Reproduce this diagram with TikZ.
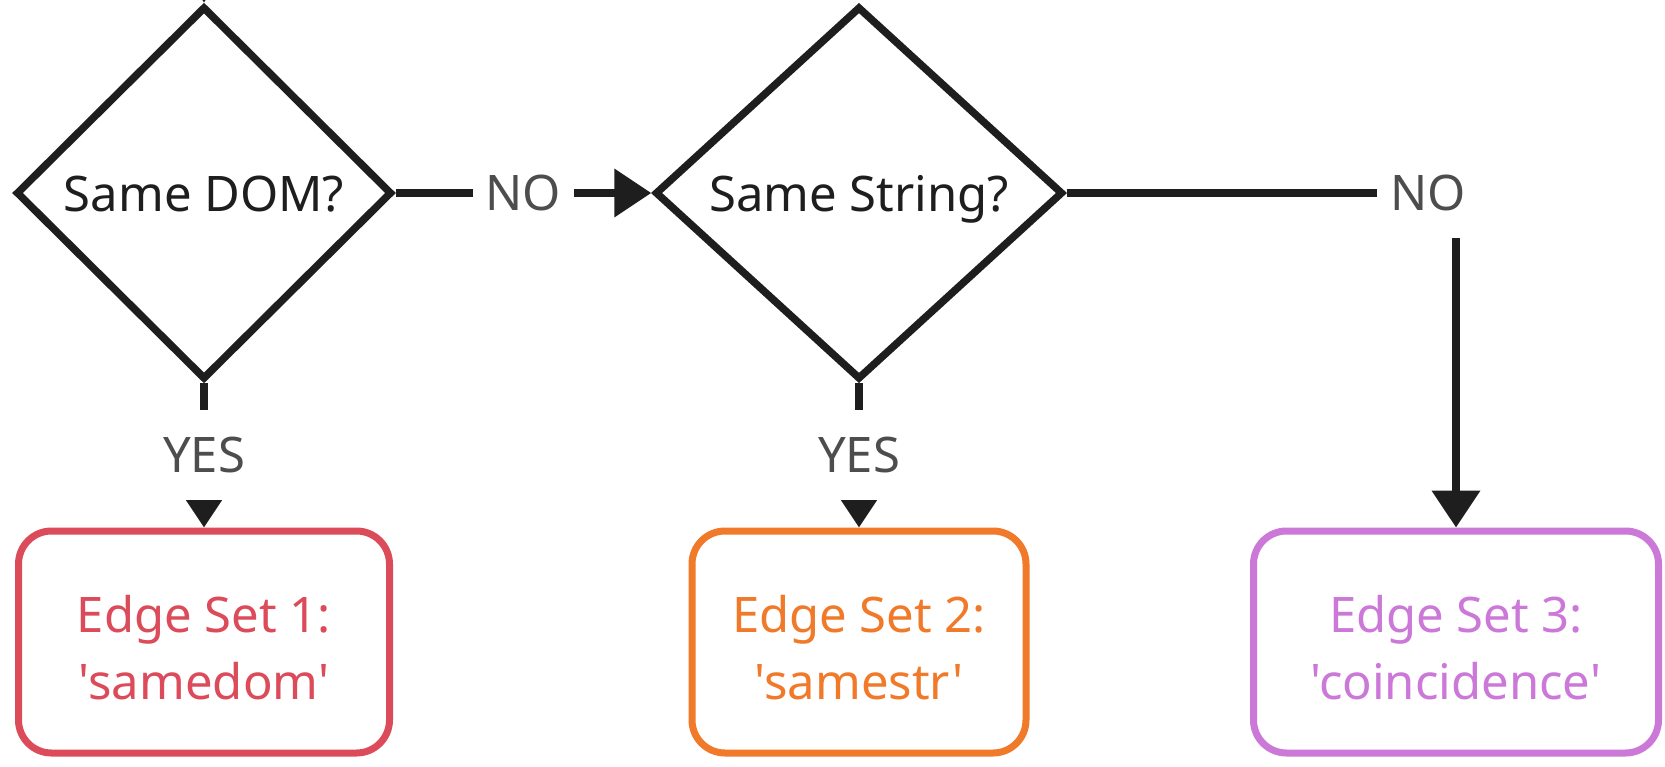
\documentclass[tikz,border=0pt]{standalone}
\usepackage{fontspec}
\setmainfont{Noto Sans}[Ligatures=TeXOff]
\usetikzlibrary{arrows.meta,shapes.geometric}
\definecolor{ink}{HTML}{1E1E1E}
\definecolor{labelgrey}{HTML}{4D4D4D}
\definecolor{setred}{HTML}{DC4B5A}
\definecolor{setorange}{HTML}{F07A2A}
\definecolor{setviolet}{HTML}{CB78D8}

\begin{document}
\begin{tikzpicture}[x=1pt,y=-1pt,
  every node/.style={font=\fontsize{49}{67}\selectfont},
  decision/.style={diamond, draw=ink, line width=7.5pt, fill=white, text=ink,
    inner sep=0pt, minimum height=373pt, text height=36pt, text depth=0pt},
  edgeset/.style={draw=#1, text=#1, rounded corners=33pt, line width=7pt,
    minimum height=222pt, align=center, inner sep=0pt, text height=115pt},
  flow/.style={draw=ink, line width=7.5pt,
    -{Triangle[length=37pt,width=47pt]}},
  branch/.style={fill=white, text=labelgrey, inner xsep=13pt, inner ysep=0pt,
    minimum height=90pt},
]
\useasboundingbox (0,0) rectangle (1665,766);

% decisions
\node[decision, minimum width=376pt] (d1) at (204,193) {Same DOM?};
\node[decision, minimum width=408pt] (d2) at (859,193) {Same String?};

% resulting edge sets
\node[edgeset=setred, minimum width=371pt] (b1) at (204,642) {Edge Set 1:\\'samedom'};
\node[edgeset=setorange, minimum width=334pt] (b2) at (859,642) {Edge Set 2:\\'samestr'};
\node[edgeset=setviolet, minimum width=405pt] (b3) at (1456,642) {Edge Set 3:\\'coincidence'};

% incoming flow from above
\coordinate (entry) at (204,-80);
\draw[flow] (entry) -- (d1);

% branches
\draw[flow] (d1) -- node[branch] (noA) {NO} (d2);
\draw[flow] (d1) -- node[branch] (yesA) {YES} (b1);
\draw[flow] (d2) -- node[branch] (yesB) {YES} (b2);
\draw[flow] (d2.east) -| (b3.north);
\node[branch] (noB) at (1428,193) {NO};
\end{tikzpicture}
\end{document}
